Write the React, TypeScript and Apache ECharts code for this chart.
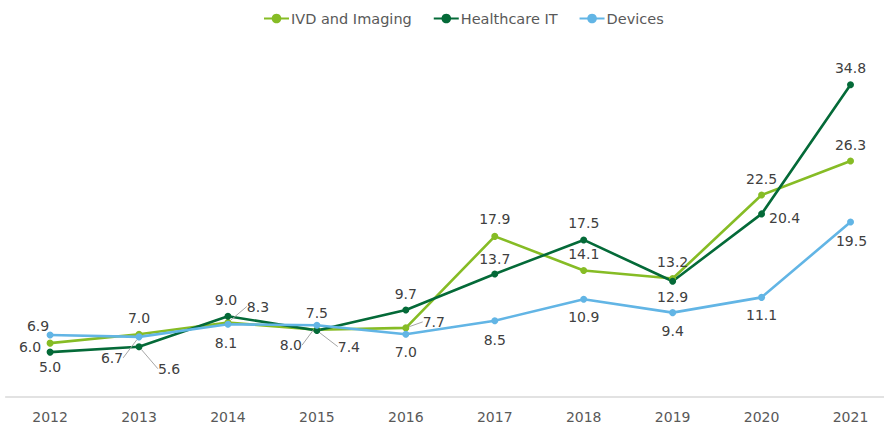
import React, { useEffect, useRef } from "react";
import * as echarts from "echarts";

const years = ["2012", "2013", "2014", "2015", "2016", "2017", "2018", "2019", "2020", "2021"];
const ivdImaging = [6.0, 7.0, 8.3, 7.5, 7.7, 17.9, 14.1, 13.2, 22.5, 26.3];
const healthcareIT = [5.0, 5.6, 9.0, 7.4, 9.7, 13.7, 17.5, 12.9, 20.4, 34.8];
const devices = [6.9, 6.7, 8.1, 8.0, 7.0, 8.5, 10.9, 9.4, 11.1, 19.5];

// label offsets (label centre relative to point), and which labels use a leader line
const ivdOffsets = [[-20, 4], [0, -16], [30, -16], [0, -17], [28, -6], [0, -17], [0, -16], [0, -17], [0, -16], [0, -16]];
const hitOffsets = [[0, 15], [30, 22], [-2, -16], [32, 16], [0, -16], [0, -15], [0, -17], [0, 16], [23, 4], [0, -17]];
const devOffsets = [[-12, -9], [-27, 21], [-2, 19], [-26, 20], [0, 18], [0, 19], [0, 18], [0, 18], [0, 18], [1, 19]];
const ivdLeaders = [2, 4];
const hitLeaders = [1, 3];
const devLeaders = [1, 3];

const FONT = "'DejaVu Sans', Verdana, sans-serif";

function buildSeries(name: string, values: number[], color: string, offsets: number[][], leaders: number[]) {
  return {
    name,
    type: "line",
    data: values.map((v, i) => ({
      value: v,
      labelLine: { show: leaders.includes(i) },
    })),
    symbol: "circle",
    symbolSize: 7,
    lineStyle: { color, width: 2.6 },
    itemStyle: { color },
    label: {
      show: true,
      position: "inside",
      formatter: (p: any) => Number(p.value).toFixed(1),
      color: "#404040",
      fontSize: 14,
      fontFamily: FONT,
    },
    labelLine: {
      show: false,
      lineStyle: { color: "#a6a6a6", width: 1 },
    },
    labelLayout: (params: any) => {
      const r = params.rect;
      const cx = r.x + r.width / 2;
      const cy = r.y + r.height / 2;
      const o = offsets[params.dataIndex];
      return { x: cx + o[0], y: cy + o[1], align: "center", verticalAlign: "middle" };
    },
    emphasis: { disabled: true },
  };
}

export default function App() {
  const ref = useRef<HTMLDivElement>(null);
  useEffect(() => {
    if (!ref.current) return;
    const chart = echarts.init(ref.current, undefined, { renderer: "svg" });
    chart.setOption({
      animation: false,
      backgroundColor: "#ffffff",
      textStyle: { fontFamily: FONT },
      legend: {
        top: 6,
        left: 258,
        itemWidth: 25,
        itemHeight: 12,
        itemGap: 21,
        textStyle: { color: "#595959", fontSize: 14.5, fontFamily: FONT, padding: [0, 0, 0, -3] },
        data: ["IVD and Imaging", "Healthcare IT", "Devices"],
      },
      grid: { left: 5.6, right: 0, top: 38, bottom: 28 },
      xAxis: {
        type: "category",
        data: years,
        boundaryGap: true,
        axisLine: { show: true, lineStyle: { color: "#d9d9d9", width: 1.5 } },
        axisTick: { show: false },
        axisLabel: { color: "#595959", fontSize: 14, fontFamily: FONT, margin: 13 },
      },
      yAxis: {
        type: "value",
        min: 0,
        max: 40,
        show: false,
        splitLine: { show: false },
      },
      series: [
        buildSeries("IVD and Imaging", ivdImaging, "#86BC25", ivdOffsets, ivdLeaders),
        buildSeries("Healthcare IT", healthcareIT, "#046A38", hitOffsets, hitLeaders),
        buildSeries("Devices", devices, "#62B5E5", devOffsets, devLeaders),
      ],
    });
    return () => chart.dispose();
  }, []);
  return (
    <div
      ref={ref}
      style={{ position: "fixed", left: 0, top: 0, width: 895, height: 425, background: "#fff" }}
    />
  );
}
